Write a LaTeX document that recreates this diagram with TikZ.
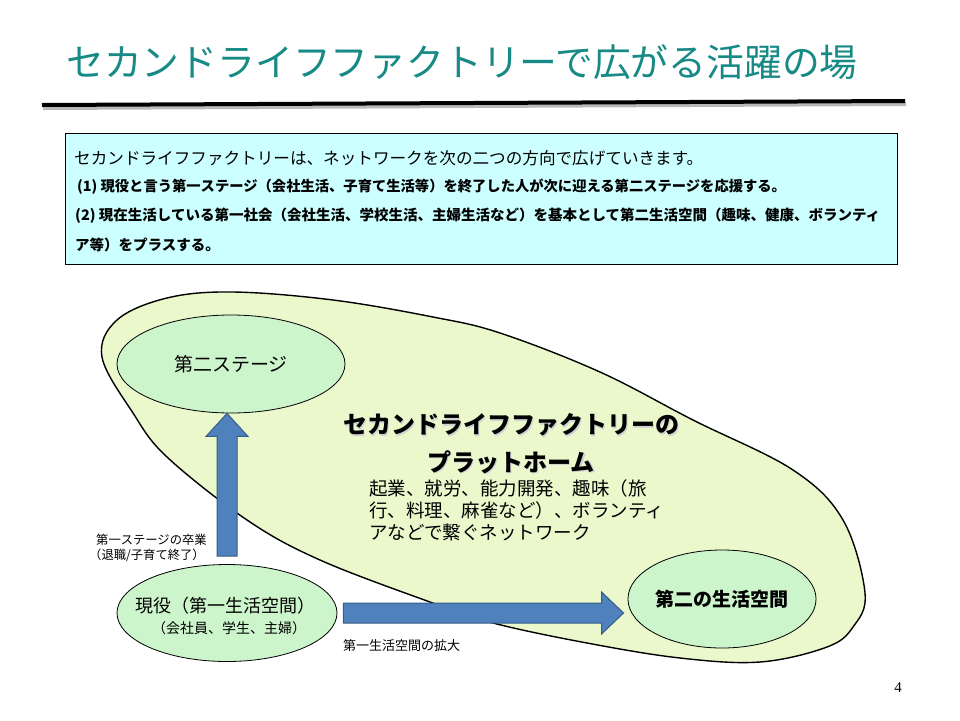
\documentclass[tikz,border=0pt]{standalone}
\usepackage{fontspec}
\setmainfont{Noto Sans CJK JP}
\newfontfamily\numfont{Liberation Serif}
\usetikzlibrary{shapes.geometric,calc}
\definecolor{titleteal}{RGB}{23,138,133}
\definecolor{boxcyan}{RGB}{204,255,255}
\definecolor{platfill}{RGB}{235,248,204}
\definecolor{ellfill}{RGB}{204,245,204}
\definecolor{arrfill}{RGB}{79,129,189}
\definecolor{arrdraw}{RGB}{56,93,138}
\tikzset{
  txt/.style={inner sep=0pt, anchor=west},
  ctxt/.style={inner sep=0pt},
  stageell/.style={ellipse, draw=black, line width=0.8pt, fill=ellfill, inner sep=0pt},
  blockarrow/.style={fill=arrfill, draw=arrdraw, line width=1pt, line join=miter},
  shadowtxt/.style={inner sep=0pt, text=gray!35},
}
\begin{document}
\begin{tikzpicture}[x=1pt,y=-1pt]
\useasboundingbox (0,0) rectangle (960,720);
\fill[white] (0,0) rectangle (960,720);
% title
\node[txt, text=titleteal, font=\fontsize{37.8}{40}\selectfont] (title) at (66,62) {セカンドライフファクトリーで広がる活躍の場};
\coordinate (rl) at (42,105);
\coordinate (rr) at (905,101);
\draw[gray!55, line width=4pt] ($(rl)+(1,3)$) -- ($(rr)+(1,3)$);
\draw[black, line width=4pt] (rl) -- (rr);
% text box
\node[draw=black, fill=boxcyan, line width=0.8pt, minimum width=832pt, minimum height=131pt, anchor=north west, inner sep=0pt] (box) at (65,133) {};
\node[txt, font=\fontsize{16.6}{18}\selectfont] (l1) at (74,158) {セカンドライフファクトリーは、ネットワークを次の二つの方向で広げていきます。};
\node[txt, font=\bfseries\fontsize{14.3}{16}\selectfont] (l2) at (77,187) {(1) 現役と言う第一ステージ（会社生活、子育て生活等）を終了した人が次に迎える第二ステージを応援する。};
\node[txt, font=\bfseries\fontsize{14.5}{16}\selectfont] (l3) at (75,216) {(2) 現在生活している第一社会（会社生活、学校生活、主婦生活など）を基本として第二生活空間（趣味、健康、ボランティ};
\node[txt, font=\bfseries\fontsize{14.5}{16}\selectfont] (l4) at (75,245) {ア等）をプラスする。};
% platform shape
\draw[fill=platfill, draw=black, line width=1.4pt] plot[smooth cycle, tension=0.6] coordinates {
 (102,357) (117,320) (167,298) (233,292) (333,300) (433,317) (500,333) (600,372)
 (693,420) (793,470) (843,520) (865,593) (853,627) (827,647) (760,662) (680,658)
 (587,643) (493,623) (430,602) (320,560) (247,520) (167,457) (133,413)};
% ellipses
\node[stageell, minimum width=228pt, minimum height=98pt, font=\fontsize{19}{20}\selectfont] (s2) at (231,364) {第二ステージ};
\node[stageell, minimum width=220pt, minimum height=97pt] (g) at (227,613) {};
\node[ctxt, font=\fontsize{18}{20}\selectfont] (gt1) at (225,606) {現役（第一生活空間）};
\node[ctxt, font=\fontsize{14}{16}\selectfont] (gt2) at (229,628) {（会社員、学生、主婦）};
\node[stageell, minimum width=152pt, minimum height=98pt, font=\bfseries\fontsize{19}{20}\selectfont] (s3) at (722,599) {第二の生活空間};
% platform text (with soft shadow)
\node[shadowtxt, font=\bfseries\fontsize{24}{26}\selectfont] (pt1s) at (512.5,426.5) {セカンドライフファクトリーの};
\node[ctxt, font=\bfseries\fontsize{24}{26}\selectfont] (pt1) at (511,425) {セカンドライフファクトリーの};
\node[shadowtxt, font=\bfseries\fontsize{24}{26}\selectfont] (pt2s) at (512.5,463.5) {プラットホーム};
\node[ctxt, font=\bfseries\fontsize{24}{26}\selectfont] (pt2) at (511,462) {プラットホーム};
\node[txt, align=left, font=\fontsize{18.5}{22}\selectfont] (desc) at (369,510) {起業、就労、能力開発、趣味（旅\\行、料理、麻雀など）、ボランティ\\アなどで繋ぐネットワーク};
% block arrows
\coordinate (ua0) at ($(g.north)+(0,-8)$);
\coordinate (ua1) at (ua0 |- s2.south);
\draw[blockarrow] ($(ua0)+(-10,0)$) -- ($(ua1)+(-10,23)$) -- ($(ua1)+(-21,23)$) -- (ua1)
  -- ($(ua1)+(21,23)$) -- ($(ua1)+(10,23)$) -- ($(ua0)+(10,0)$) -- cycle;
\coordinate (ra0) at ($(g.east)+(6,0)$);
\coordinate (ra1) at ($(ra0 -| s3.west)+(-4,0)$);
\draw[blockarrow] ($(ra0)+(0,-10)$) -- ($(ra1)+(-22,-10)$) -- ($(ra1)+(-22,-21)$) -- (ra1)
  -- ($(ra1)+(-22,21)$) -- ($(ra1)+(-22,10)$) -- ($(ra0)+(0,10)$) -- cycle;
% labels
\node[txt, font=\fontsize{12.3}{14}\selectfont] (lab1) at (96,540) {第一ステージの卒業};
\node[txt, font=\fontsize{12.3}{14}\selectfont] (lab2) at (89,555) {（退職/子育て終了）};
\node[txt, font=\fontsize{13}{14}\selectfont] (lab3) at (343,646) {第一生活空間の拡大};
\node[ctxt, font=\numfont\fontsize{15}{16}\selectfont] (pg) at (898,688) {4};
\end{tikzpicture}
\end{document}
